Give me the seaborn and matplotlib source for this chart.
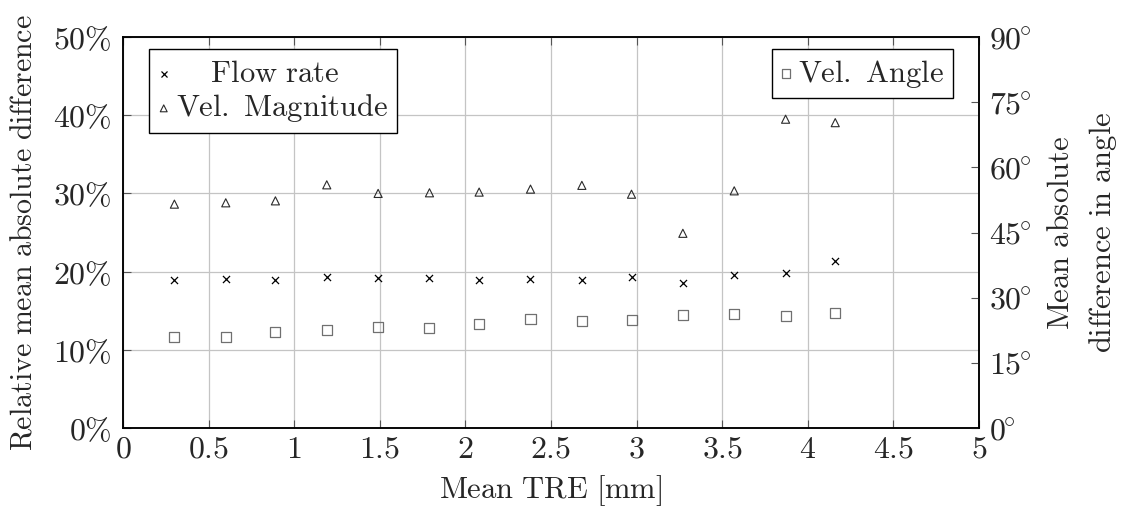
import matplotlib
matplotlib.use("Agg")
import matplotlib.pyplot as plt
import seaborn as sns
import pandas as pd

# Mean target registration error for each registration level [mm]
mean_tre = [0.30, 0.60, 0.89, 1.19, 1.49, 1.79, 2.08, 2.38, 2.68, 2.97, 3.27, 3.57, 3.87, 4.16]

# Relative mean absolute differences [%]
flow_rate = [18.97, 19.05, 18.97, 19.3, 19.14, 19.18, 18.97, 19.1, 18.88, 19.27, 18.59, 19.56, 19.87, 21.36]
vel_magnitude = [28.63, 28.8, 29.05, 31.1, 30.0, 30.08, 30.17, 30.55, 31.03, 29.9, 24.9, 30.33, 39.49, 39.05]

# Mean absolute difference in velocity angle [deg]
vel_angle = [20.9, 20.9, 22.2, 22.45, 23.2, 22.98, 23.9, 25.06, 24.69, 24.76, 26.07, 26.3, 25.76, 26.45]

x_ticks = [0, 0.5, 1, 1.5, 2, 2.5, 3, 3.5, 4, 4.5, 5]
x_tick_labels = ["0", "0.5", "1", "1.5", "2", "2.5", "3", "3.5", "4", "4.5", "5"]
pct_ticks = [0, 10, 20, 30, 40, 50]
pct_tick_labels = ["0\\%", "10\\%", "20\\%", "30\\%", "40\\%", "50\\%"]
deg_ticks = [0, 15, 30, 45, 60, 75, 90]
deg_tick_labels = ["0", "15", "30", "45", "60", "75", "90"]

sns.set_theme(style="white")
plt.rcParams.update({
    "mathtext.fontset": "cm",
    "font.family": ["DejaVu Serif"],
    "font.size": 22,
})

FS = 22      # labels and legend
FS_TICK = 23 # tick labels
df = pd.DataFrame({"tre": mean_tre, "flow": flow_rate, "mag": vel_magnitude, "angle": vel_angle})

fig = plt.figure(figsize=(11.35, 5.17), dpi=100)
ax = fig.add_axes([0.1084, 0.1721, 0.7542, 0.7563])
ax2 = ax.twinx()

sns.scatterplot(data=df, x="tre", y="flow", ax=ax, marker="x", s=26, color="black",
                linewidth=0.9, label=r"$\mathrm{\hspace{1.3}Flow\ rate}$", zorder=3)
sns.scatterplot(data=df, x="tre", y="mag", ax=ax, marker="^", s=34, facecolor="none",
                edgecolor="#2a2a2a", linewidth=0.8, label=r"$\mathrm{Vel.\ Magnitude}$", zorder=3)
sns.scatterplot(data=df, x="tre", y="angle", ax=ax2, marker="s", s=52, facecolor="none",
                edgecolor="#707070", linewidth=0.9, label=r"$\mathrm{Vel.\ Angle}$", zorder=3)

# left axis: relative differences
ax.set_xlim(0, 5)
ax.set_ylim(0, 50)
ax.set_xticks(x_ticks)
ax.set_xticklabels([f"${t}$" for t in x_tick_labels], fontsize=FS_TICK)
ax.set_yticks(pct_ticks)
ax.set_yticklabels([f"${t}$" for t in pct_tick_labels], fontsize=FS_TICK)
ax.grid(True, color="#c4c4c4", linewidth=0.9)
ax.set_axisbelow(True)
ax.tick_params(axis="x", direction="in", length=6, width=0.8, color="#555555",
               top=True, bottom=True, pad=4)
ax.tick_params(axis="y", direction="in", length=6, width=0.8, color="#555555",
               left=True, right=False, pad=8)
ax.set_xlabel(r"$\mathrm{Mean\ TRE\ [mm]}$", fontsize=FS, labelpad=6)
ax.set_ylabel(r"$\mathrm{Relative\ mean\ absolute\ difference}$", fontsize=21.5)
ax.yaxis.set_label_coords(-0.1005, 0.5)

# right axis: angle differences
ax2.set_ylim(0, 90)
ax2.set_yticks(deg_ticks)
ax2.set_yticklabels([f"${t}^{{\\!\\!\\circ}}$" for t in deg_tick_labels], fontsize=FS_TICK)
ax2.tick_params(axis="y", direction="in", length=6, width=0.8, color="#555555",
                right=True, left=False, pad=7)
ax2.grid(False)
ax2.set_ylabel(r"$\mathrm{Mean\ absolute}$" + "\n" + r"$\mathrm{difference\ in\ angle}$",
               fontsize=FS, multialignment="center", labelpad=10, linespacing=1.45)

for a in (ax, ax2):
    for sp in a.spines.values():
        sp.set_color("black")
        sp.set_linewidth(1.1)

leg_kw = dict(frameon=True, fancybox=False, fontsize=FS, markerscale=0.85,
              handlelength=0.4, handletextpad=0.2, borderpad=0.28, labelspacing=0.12,
              borderaxespad=0.0, edgecolor="black", framealpha=1.0)
leg1 = ax.legend(loc="upper left", bbox_to_anchor=(0.0304, 0.969), **leg_kw)
leg1.get_frame().set_linewidth(1.0)
leg2 = ax2.legend(loc="upper right", bbox_to_anchor=(0.9696, 0.969), **leg_kw)
leg2.get_frame().set_linewidth(1.0)

fig.savefig("out.png", dpi=100)
